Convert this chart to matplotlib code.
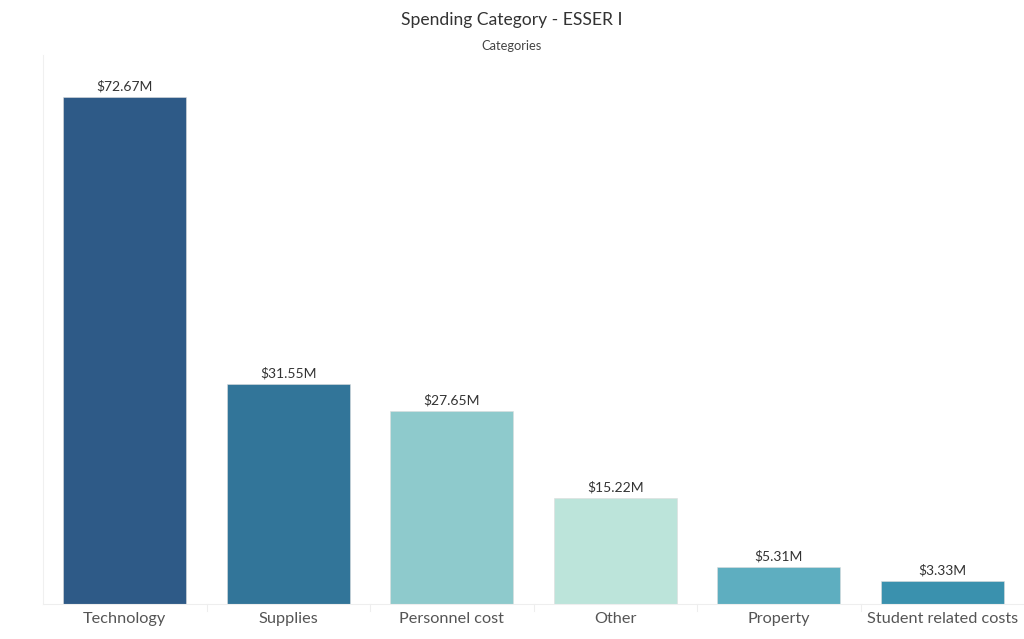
import matplotlib
matplotlib.use("Agg")
import matplotlib.pyplot as plt

plt.rcParams['font.family'] = ['Lato', 'DejaVu Sans']

categories = ["Technology", "Supplies", "Personnel cost", "Other", "Property", "Student related costs"]
values = [72.67, 31.55, 27.65, 15.22, 5.31, 3.33]
colors = ["#2e5a87", "#327599", "#8ecacc", "#bce4da", "#5eaec0", "#3a91ae"]

fig = plt.figure(figsize=(10.24, 6.39), dpi=100)
ax = fig.add_axes([0.042, 0.055, 0.958, 0.859])

x = range(len(categories))
bars = ax.bar(x, values, width=0.75, color=colors, edgecolor="#dddddd", linewidth=0.4)
for xi, v in zip(x, values):
    ax.annotate(f"${v:.2f}M", (xi, v), textcoords="offset points", xytext=(0, 3),
                ha="center", va="bottom", fontsize=10, color="#333333")

ax.set_xlim(-0.5, len(categories) - 0.5)
ax.set_ylim(0, 78.7)
ax.set_xticks(list(x))
ax.set_xticklabels(categories, fontsize=11.7, color="#555555")
ax.tick_params(axis="x", length=0, pad=6)
ax.set_yticks([])
for s in ["top", "right"]:
    ax.spines[s].set_visible(False)
ax.spines["left"].set_color("#f0f0f0")
ax.spines["bottom"].set_color("#eeeeee")
for b in range(1, len(categories)):
    ax.plot([b - 0.5, b - 0.5], [0, -1.0], color="#eeeeee", lw=0.8, clip_on=False)

fig.text(0.5, 0.968, "Spending Category - ESSER I", ha="center", va="center", fontsize=12.6, color="#333333")
fig.text(0.5, 0.928, "Categories", ha="center", va="center", fontsize=9.3, color="#444444")

fig.savefig("out.png", dpi=100)
